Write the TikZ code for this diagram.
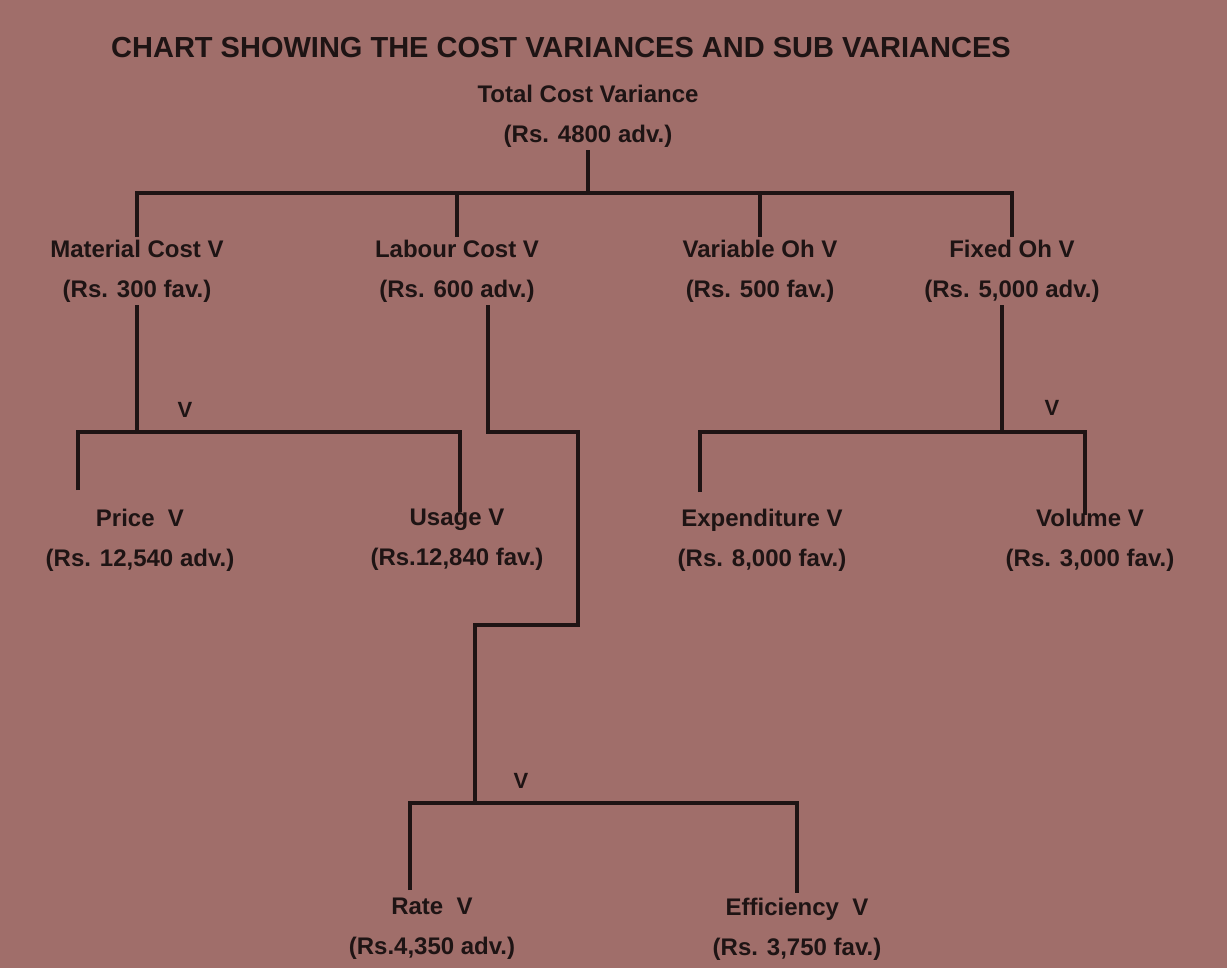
\documentclass[tikz,border=0pt]{standalone}
\usepackage{fontspec}
\setmainfont{Liberation Sans}
\usetikzlibrary{positioning}
\definecolor{pagemauve}{RGB}{160,110,106}
\definecolor{inkdark}{RGB}{30,20,20}

\begin{document}
\begin{tikzpicture}[
    x=1pt,y=-1pt,
    var/.style={align=center,text=inkdark,inner sep=3pt,
      font=\bfseries\fontsize{24}{40}\selectfont},
    vmark/.style={text=inkdark,inner sep=0pt,font=\bfseries\fontsize{22}{24}\selectfont},
    link/.style={draw=inkdark,line width=4.5pt}
  ]
    \fill[pagemauve] (0,0) rectangle (1227,968);
    \useasboundingbox (0,0) rectangle (1227,968);

    \node[text=inkdark,font=\bfseries\fontsize{29}{30}\selectfont] (title) at (561,48)
      {CHART SHOWING THE COST VARIANCES AND SUB VARIANCES};

    % total and the four cost variances
    \node[var] (total) at (588,116) {Total Cost Variance\\(Rs. 4800 adv.)};
    \node[var] (mat) at (137,271) {Material Cost V\\(Rs. 300 fav.)};
    \node[var] (lab) at (457,271) {Labour Cost V\\(Rs. 600 adv.)};
    \node[var] (varoh) at (760,271) {Variable Oh V\\(Rs. 500 fav.)};
    \node[var] (fixoh) at (1012,271) {Fixed Oh V\\(Rs. 5,000 adv.)};

    % sub variances
    \node[var] (price) at (140,540) {Price\ \ V\\(Rs. 12,540 adv.)};
    \node[var] (usage) at (457,540) {Usage V\\(Rs.12,840 fav.)};
    \node[var] (expend) at (762,540) {Expenditure V\\(Rs. 8,000 fav.)};
    \node[var] (volume) at (1090,540) {Volume V\\(Rs. 3,000 fav.)};
    \node[var] (rate) at (432,929) {Rate\ \ V\\(Rs.4,350 adv.)};
    \node[var] (effic) at (797,929) {Efficiency\ \ V\\(Rs. 3,750 fav.)};

    \node[vmark] (vmat) at (185,410) {V};
    \node[vmark] (vfix) at (1052,408) {V};
    \node[vmark] (vlab) at (521,781) {V};

    % bus lines
    \coordinate (topbus) at (588,193);
    \coordinate (matbus) at (137,432);
    \coordinate (fixbus) at (1002,432);
    \coordinate (labbus) at (475,803);

    \draw[link] (total.south) -- (topbus);
    \draw[link] (mat.north) |- (topbus) -| (fixoh.north);
    \draw[link] (lab.north) -- (lab.north |- topbus);
    \draw[link] (varoh.north) -- (varoh.north |- topbus);

    \draw[link] (mat.south) -- (matbus);
    \draw[link] (78,490) |- (matbus) -| (460,512);

    \draw[link] (fixoh.south -| fixbus) -- (fixbus);
    \draw[link] (700,492) |- (fixbus) -| (1085,515);

    \draw[link] (lab.south -| 488,0) -- (488,432) -- (578,432) -- (578,625)
      -- (475,625) -- (labbus);
    \draw[link] (410,890) |- (labbus) -| (797,893);
\end{tikzpicture}
\end{document}
